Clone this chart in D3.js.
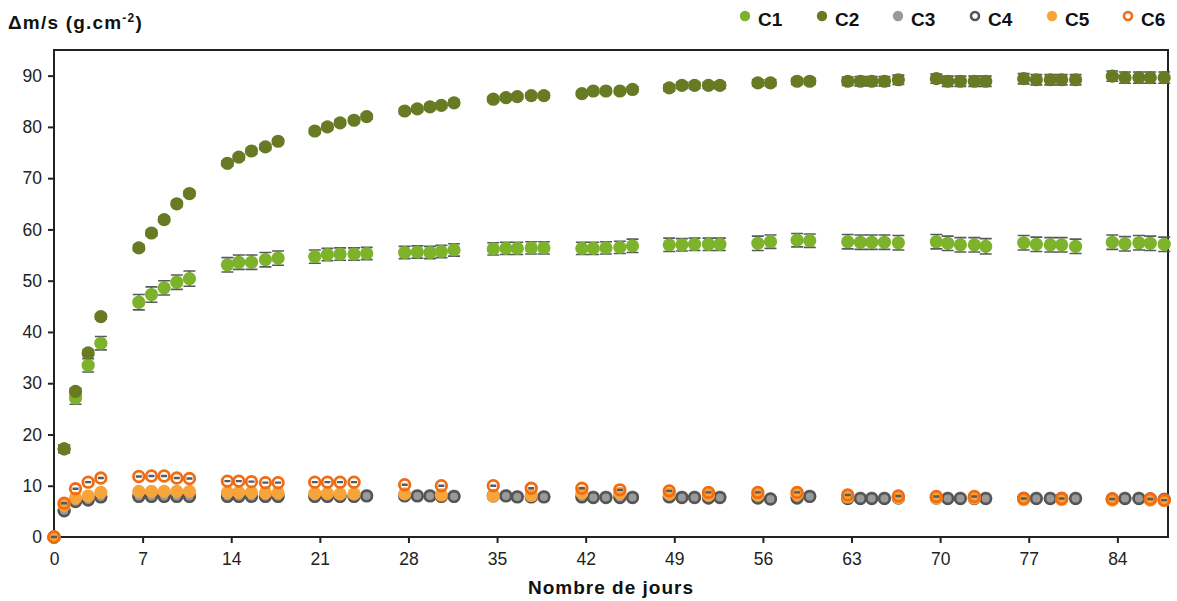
<!DOCTYPE html>
<html><head><meta charset="utf-8">
<script src="https://cdn.jsdelivr.net/npm/d3@7/dist/d3.min.js"></script>
<style>
body{margin:0;background:#fff;}
svg{display:block;font-family:"Liberation Sans",Arial,sans-serif;}
</style></head>
<body>
<svg id="chart" width="1177" height="601"></svg>
<script>
// ---- data ----
const seriesNames = ["C1","C2","C3","C4","C5","C6"];
const days = [0,0.8,1.7,2.7,3.7, 6.7,7.7,8.7,9.7,10.7, 13.7,14.6,15.6,16.7,17.7, 20.6,21.6,22.6,23.7,24.7,
  27.7,28.7,29.7,30.6,31.6, 34.7,35.7,36.6,37.7,38.7, 41.7,42.6,43.6,44.7,45.7, 48.6,49.6,50.6,51.7,52.6,
  55.6,56.6,58.7,59.7, 62.7,63.7,64.6,65.6,66.7, 69.7,70.6,71.6,72.7,73.6, 76.6,77.6,78.7,79.6,80.7,
  83.6,84.6,85.7,86.6,87.7];
const c1 = [0,17.2,27.1,33.5,37.8, 45.8,47.3,48.6,49.7,50.4, 53.1,53.6,53.6,54.1,54.4, 54.7,55.1,55.2,55.2,55.3,
  55.5,55.6,55.5,55.7,56.0, 56.2,56.3,56.3,56.4,56.4, 56.3,56.3,56.4,56.5,56.8, 57.0,57.0,57.1,57.1,57.1,
  57.3,57.6,57.9,57.8, 57.6,57.5,57.5,57.5,57.4, 57.6,57.3,57.0,57.0,56.7, 57.4,57.1,57.0,57.0,56.7,
  57.5,57.2,57.4,57.3,57.1];
const c1err = [0,0.8,1.2,1.3,1.3, 1.5,1.5,1.4,1.4,1.5, 1.4,1.4,1.4,1.4,1.4, 1.3,1.2,1.2,1.2,1.2,
  1.2,1.2,1.2,1.2,1.2, 1.2,1.2,1.2,1.2,1.2, 1.2,1.2,1.2,1.2,1.3, 1.3,1.2,1.2,1.2,1.2,
  1.4,1.3,1.3,1.3, 1.4,1.4,1.4,1.4,1.4, 1.4,1.4,1.4,1.4,1.5, 1.4,1.4,1.4,1.4,1.4,
  1.4,1.4,1.4,1.4,1.4];
const c2 = [0,17.2,28.4,35.9,43.0, 56.4,59.3,61.9,65.0,67.0, 72.9,74.1,75.3,76.1,77.2, 79.2,80.0,80.8,81.3,82.0,
  83.1,83.5,83.9,84.2,84.7, 85.4,85.7,85.9,86.1,86.1, 86.5,87.0,87.0,87.0,87.3, 87.6,88.1,88.1,88.1,88.1,
  88.6,88.6,88.9,88.9, 88.9,88.9,88.9,88.9,89.2, 89.4,88.9,88.9,88.9,88.9, 89.4,89.2,89.2,89.2,89.2,
  89.9,89.6,89.6,89.6,89.6];
const c2err = [0,0.6,0.6,0.5,0.5, 0.5,0.5,0.5,0.5,0.5, 0.5,0.5,0.5,0.5,0.5, 0.5,0.5,0.5,0.5,0.5,
  0.5,0.5,0.5,0.5,0.5, 0.5,0.5,0.5,0.5,0.5, 0.5,0.5,0.5,0.5,0.5, 0.6,0.6,0.6,0.6,0.6,
  0.6,0.6,0.6,0.6, 0.8,0.9,0.9,0.9,0.9, 0.9,1.0,1.0,1.0,1.0, 1.0,1.0,1.0,1.0,1.0,
  1.0,1.1,1.1,1.1,1.1];
const c3 = [0,5.2,7.0,7.3,7.9, 8.0,8.0,8.0,8.0,8.0, 8.0,8.0,8.0,8.0,8.0, 8.0,8.0,8.0,8.0,8.1,
  8.1,8.1,8.1,8.0,8.0, 8.1,8.1,7.9,7.9,7.9, 7.9,7.8,7.8,7.8,7.8, 7.9,7.8,7.8,7.7,7.8,
  7.7,7.5,7.7,8.0, 7.6,7.6,7.6,7.6,7.7, 7.7,7.6,7.6,7.6,7.6, 7.6,7.6,7.6,7.6,7.6,
  7.5,7.6,7.6,7.5,7.4];
const c4 = [0,5.1,6.9,7.2,7.8, 7.9,7.9,7.9,7.9,7.9, 7.9,7.9,7.9,7.9,7.9, 7.9,7.9,7.9,7.9,8.0,
  8.0,8.0,8.0,7.9,7.9, 8.0,8.0,7.8,7.8,7.8, 7.8,7.7,7.7,7.7,7.7, 7.8,7.7,7.7,7.6,7.7,
  7.6,7.4,7.6,7.9, 7.5,7.5,7.5,7.5,7.6, 7.6,7.5,7.5,7.5,7.5, 7.5,7.5,7.5,7.5,7.5,
  7.4,7.5,7.5,7.4,7.3];
const c5 = [0,6.2,7.6,8.0,8.7, 8.9,8.9,8.9,8.9,8.9, 8.7,8.7,8.7,8.6,8.6, 8.5,8.5,8.4,8.4,null,
  8.4,null,null,8.2,null, 8.0,null,null,8.1,null, 8.6,null,null,8.5,null, 8.4,null,null,8.2,null,
  8.2,null,8.3,null, 7.8,null,null,null,7.7, 7.6,null,null,7.6,null, 7.3,null,null,7.3,null,
  7.2,null,null,7.2,7.1];
const c6 = [0,6.6,9.4,10.7,11.5, 11.8,11.9,11.9,11.5,11.4, 10.9,10.9,10.8,10.6,10.6, 10.7,10.7,10.7,10.7,null,
  10.2,null,null,10.0,null, 10.0,null,null,9.5,null, 9.5,null,null,9.2,null, 9.0,null,null,8.7,null,
  8.7,null,8.7,null, 8.2,null,null,null,8.0, 7.9,null,null,7.9,null, 7.5,null,null,7.5,null,
  7.4,null,null,7.4,7.2];
const c6err = c6.map(v => v === null ? null : 0.08);
const yTicks = [0,10,20,30,40,50,60,70,80,90];
const xTicks = [0,7,14,21,28,35,42,49,56,63,70,77,84];
const colors = {C1:"#7db22b", C2:"#687a22", C3:"#9a9a9a", C4:"#555555", C5:"#f7a43a", C6:"#f06b12"};

// ---- layout ----
const svg = d3.select("#chart");
const L = 54, R = 1168, T = 50, B = 537;
const x = d3.scaleLinear().domain([0, 88]).range([L, R]);
const y = d3.scaleLinear().domain([0, 95]).range([B, T]);

// axes
const gy = svg.append("g").attr("transform", `translate(${L},0)`)
  .call(d3.axisLeft(y).tickValues(yTicks).tickSize(6).tickPadding(6).tickFormat(d3.format("d")));
const gx = svg.append("g").attr("transform", `translate(0,${B})`)
  .call(d3.axisBottom(x).tickValues(xTicks).tickSize(6).tickPadding(10).tickFormat(d3.format("d")));
[gy, gx].forEach(g => {
  g.select(".domain").remove();
  g.selectAll(".tick line").attr("stroke", "#222").attr("stroke-width", 2);
  g.selectAll(".tick text").attr("fill", "#222").style("font-size", "17.5px");
});
// box
svg.append("path")
  .attr("d", `M${L},${B}V${T}H${R}V${B}H${L}`)
  .attr("fill", "none").attr("stroke", "#222").attr("stroke-width", 2);

// series
function errorBars(vals, errs, w) {
  const g = svg.append("g").attr("stroke", "#555a60").attr("stroke-width", 1.6);
  const pts = days.map((d, i) => ({d, v: vals[i], e: errs[i]})).filter(p => p.v !== null && p.e);
  g.selectAll("path").data(pts).join("path")
    .attr("d", p => {
      const cx = x(p.d), y1 = y(p.v + p.e), y2 = y(p.v - p.e);
      return `M${cx},${y1}V${y2}M${cx - w},${y1}H${cx + w}M${cx - w},${y2}H${cx + w}`;
    });
}
function markers(vals, fill, stroke, r, sw) {
  const pts = days.map((d, i) => ({d, v: vals[i]})).filter(p => p.v !== null);
  svg.append("g").selectAll("circle").data(pts).join("circle")
    .attr("cx", p => x(p.d)).attr("cy", p => y(p.v)).attr("r", r)
    .attr("fill", fill).attr("stroke", stroke).attr("stroke-width", sw);
}
errorBars(c1, c1err, 6);
markers(c1, colors.C1, "none", 6.6, 0);
errorBars(c2, c2err, 6);
markers(c2, colors.C2, "none", 6.6, 0);
markers(c3, colors.C3, "none", 6.6, 0);
markers(c4, "none", colors.C4, 5.3, 2.6);
markers(c5, colors.C5, "none", 6.6, 0);
errorBars(c6, c6err, 3);
markers(c6, "none", colors.C6, 5.3, 2.8);

// titles
const yt = svg.append("text").attr("x", 8).attr("y", 29)
  .attr("font-weight", "bold").attr("font-size", 19).attr("letter-spacing", 1.2).attr("fill", "#111");
yt.append("tspan").text("Δm/s (g.cm");
yt.append("tspan").attr("font-size", 12).attr("dy", -7).text("-2");
yt.append("tspan").attr("dy", 7).text(")");

svg.append("text").attr("x", (L + R) / 2).attr("y", 594)
  .attr("text-anchor", "middle").attr("font-weight", "bold").attr("font-size", 19)
  .attr("letter-spacing", 1).attr("fill", "#111").text("Nombre de jours");

// legend
const legX = [745, 822, 898, 975, 1052, 1128];
const lg = svg.append("g");
seriesNames.forEach((n, i) => {
  const g = lg.append("g").attr("transform", `translate(${legX[i]},16)`);
  if (n === "C4" || n === "C6") {
    g.append("circle").attr("r", 4).attr("fill", "none").attr("stroke", colors[n]).attr("stroke-width", 2.6);
  } else {
    g.append("circle").attr("r", 5.2).attr("fill", colors[n]);
  }
  g.append("text").attr("x", 13).attr("y", 10).attr("font-weight", "bold").attr("font-size", 19)
    .attr("fill", "#111").text(n);
});
</script>
</body></html>
